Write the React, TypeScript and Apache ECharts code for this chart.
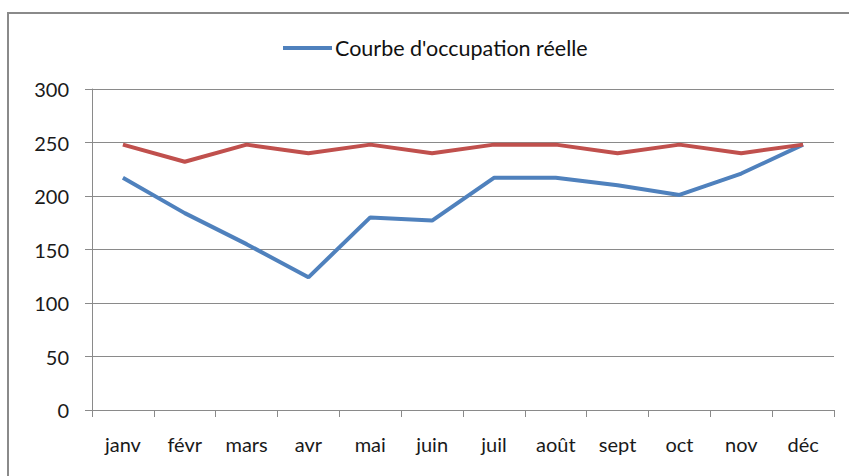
import React, { useEffect, useRef } from "react";
import * as echarts from "echarts";

const months = ["janv", "févr", "mars", "avr", "mai", "juin", "juil", "août", "sept", "oct", "nov", "déc"];
const occupationReelle = [217, 184, 155, 124, 180, 177, 217, 217, 210, 201, 221, 248];
const capacite = [248, 232, 248, 240, 248, 240, 248, 248, 240, 248, 240, 248];
const yTicks = { min: 0, max: 300, interval: 50 };

const FONT = "Lato";

export default function App() {
  const ref = useRef<HTMLDivElement>(null);
  useEffect(() => {
    if (!ref.current) return;
    const chart = echarts.init(ref.current, undefined, { renderer: "svg" });
    chart.setOption({
      animation: false,
      backgroundColor: "#ffffff",
      textStyle: { fontFamily: FONT },
      graphic: [
        {
          type: "rect",
          shape: { x: 8, y: 13, width: 900, height: 500 },
          style: { fill: "none", stroke: "#8a8a8a", lineWidth: 2 },
          silent: true,
        },
      ],
      legend: {
        data: [{ name: "Courbe d'occupation réelle", icon: "rect" }],
        left: 278,
        top: 32,
        itemWidth: 49,
        itemHeight: 4,
        itemGap: 10,
        textStyle: { fontFamily: FONT, fontSize: 21.5, color: "#111", padding: [0, 0, 0, -2] },
      },
      grid: { left: 92, right: 15, top: 89, bottom: 66, containLabel: false },
      xAxis: {
        type: "category",
        data: months,
        boundaryGap: true,
        axisLine: { show: true, lineStyle: { color: "#8a8a8a", width: 1 } },
        axisTick: { show: true, length: 7, lineStyle: { color: "#8a8a8a" } },
        axisLabel: { fontFamily: FONT, fontSize: 20, color: "#1a1a1a", margin: 24, interval: 0 },
        splitLine: { show: false },
      },
      yAxis: {
        type: "value",
        min: yTicks.min,
        max: yTicks.max,
        interval: yTicks.interval,
        axisLine: { show: true, lineStyle: { color: "#8a8a8a", width: 1 } },
        axisTick: { show: true, length: 7, lineStyle: { color: "#8a8a8a" } },
        axisLabel: { fontFamily: FONT, fontSize: 20, color: "#1a1a1a", margin: 23 },
        splitLine: { show: true, lineStyle: { color: "#8a8a8a", width: 1 } },
      },
      series: [
        {
          name: "Courbe d'occupation réelle",
          type: "line",
          data: occupationReelle,
          symbol: "none",
          lineStyle: { color: "#4F81BD", width: 4 },
          itemStyle: { color: "#4F81BD" },
        },
        {
          name: "Capacité",
          type: "line",
          data: capacite,
          symbol: "none",
          lineStyle: { color: "#C0504D", width: 4 },
          itemStyle: { color: "#C0504D" },
        },
      ],
    });
    return () => chart.dispose();
  }, []);
  return (
    <div
      ref={ref}
      style={{ position: "fixed", left: 0, top: 0, width: 849, height: 476 }}
    />
  );
}
